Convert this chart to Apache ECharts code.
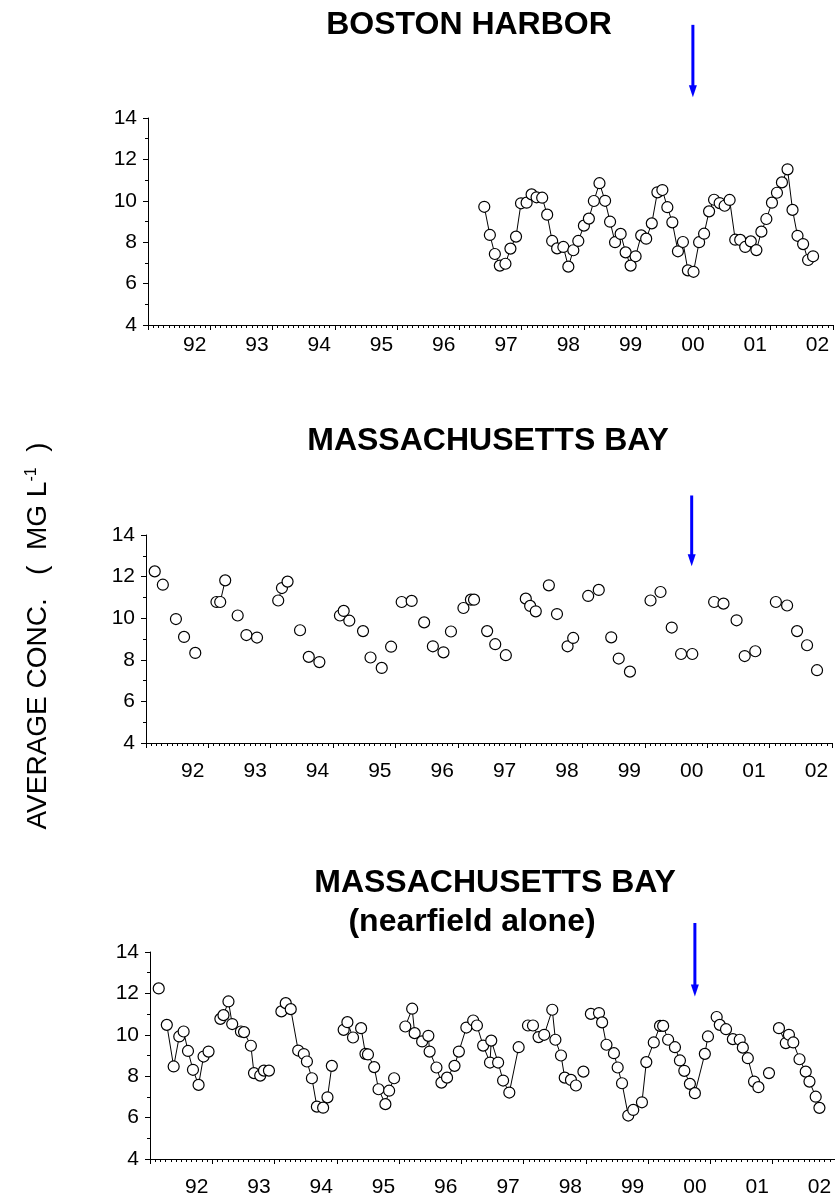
<!DOCTYPE html>
<html lang="en">
<head>
    <meta charset="UTF-8">
    <title>Average concentration - Boston Harbor / Massachusetts Bay</title>
    <script src="https://cdn.jsdelivr.net/npm/echarts@6/dist/echarts.min.js"></script>
    <style>
        html, body { margin: 0; padding: 0; background: #fff; }
        #chart { width: 835px; height: 1202px; }
    </style>
</head>
<body>
    <div id="chart"></div>

    <script>
        // x values are decimal years, the "92" label sits at 1992.0
        const yearLabels = [1992, 1993, 1994, 1995, 1996, 1997, 1998, 1999, 2000, 2001, 2002];
        const outfallYear = 2000.0;

        // Boston Harbor
        const bhYears = [1996.65, 1996.74, 1996.82, 1996.90, 1996.99, 1997.07, 1997.16, 1997.24, 1997.33, 1997.41,
            1997.49, 1997.58, 1997.66, 1997.74, 1997.82, 1997.92, 1998.00, 1998.08, 1998.16, 1998.25,
            1998.33, 1998.41, 1998.50, 1998.59, 1998.67, 1998.75, 1998.84, 1998.92, 1999.00, 1999.08,
            1999.17, 1999.25, 1999.34, 1999.43, 1999.51, 1999.59, 1999.67, 1999.76, 1999.84, 1999.92,
            2000.01, 2000.10, 2000.18, 2000.26, 2000.34, 2000.43, 2000.51, 2000.59, 2000.68, 2000.76,
            2000.84, 2000.93, 2001.02, 2001.10, 2001.18, 2001.27, 2001.35, 2001.43, 2001.52, 2001.60,
            2001.68, 2001.77, 2001.85, 2001.93];
        const bhValues = [9.71, 8.35, 7.43, 6.87, 6.96, 7.69, 8.27, 9.88, 9.91, 10.31,
            10.17, 10.15, 9.33, 8.06, 7.70, 7.77, 6.82, 7.61, 8.06, 8.80,
            9.14, 9.99, 10.85, 10.00, 8.99, 8.00, 8.40, 7.51, 6.87, 7.32,
            8.33, 8.17, 8.91, 10.41, 10.52, 9.69, 8.96, 7.56, 8.01, 6.64,
            6.57, 8.00, 8.41, 9.49, 10.05, 9.89, 9.76, 10.04, 8.12, 8.11,
            7.77, 8.04, 7.62, 8.51, 9.12, 9.91, 10.39, 10.89, 11.52, 9.56,
            8.31, 7.91, 7.14, 7.32];
        const bhBreaks = [];

        // Massachusetts Bay (all stations)
        const mbYears = [1991.39, 1991.52, 1991.73, 1991.86, 1992.04, 1992.38, 1992.44, 1992.52, 1992.72, 1992.86,
            1993.03, 1993.37, 1993.43, 1993.52, 1993.72, 1993.86, 1994.03, 1994.36, 1994.42, 1994.51,
            1994.73, 1994.85, 1995.03, 1995.18, 1995.35, 1995.51, 1995.71, 1995.85, 1996.02, 1996.14,
            1996.34, 1996.46, 1996.51, 1996.72, 1996.85, 1997.02, 1997.34, 1997.41, 1997.50, 1997.71,
            1997.84, 1998.01, 1998.10, 1998.34, 1998.51, 1998.71, 1998.83, 1999.01, 1999.34, 1999.50,
            1999.68, 1999.83, 2000.01, 2000.36, 2000.51, 2000.72, 2000.85, 2001.02, 2001.35, 2001.53,
            2001.69, 2001.85, 2002.01];
        const mbValues = [12.25, 11.61, 9.96, 9.10, 8.33, 10.78, 10.78, 11.82, 10.13, 9.19,
            9.07, 10.85, 11.45, 11.76, 9.42, 8.14, 7.89, 10.13, 10.35, 9.88,
            9.38, 8.11, 7.61, 8.63, 10.78, 10.83, 9.80, 8.65, 8.36, 9.36,
            10.49, 10.89, 10.89, 9.38, 8.75, 8.22, 10.94, 10.59, 10.33, 11.58,
            10.20, 8.65, 9.05, 11.07, 11.36, 9.08, 8.06, 7.43, 10.85, 11.26,
            9.55, 8.28, 8.28, 10.78, 10.70, 9.90, 8.18, 8.41, 10.78, 10.61,
            9.38, 8.70, 7.50];
        // only these points are joined to the previous one
        const mbJoined = [6, 7, 12, 13, 32, 37, 38, 42];

        // Massachusetts Bay, nearfield alone
        const nfYears = [1991.39, 1991.52, 1991.63, 1991.72, 1991.79, 1991.86, 1991.94, 1992.03, 1992.11, 1992.19,
            1992.38, 1992.43, 1992.51, 1992.57, 1992.71, 1992.76, 1992.87, 1992.92, 1993.02, 1993.08,
            1993.16, 1993.36, 1993.43, 1993.51, 1993.63, 1993.72, 1993.77, 1993.85, 1993.93, 1994.03,
            1994.10, 1994.17, 1994.36, 1994.42, 1994.51, 1994.64, 1994.71, 1994.75, 1994.85, 1994.92,
            1995.03, 1995.09, 1995.17, 1995.35, 1995.46, 1995.50, 1995.62, 1995.72, 1995.74, 1995.85,
            1995.93, 1996.02, 1996.14, 1996.21, 1996.33, 1996.44, 1996.50, 1996.60, 1996.71, 1996.73,
            1996.84, 1996.92, 1997.02, 1997.17, 1997.32, 1997.40, 1997.49, 1997.58, 1997.71, 1997.76,
            1997.85, 1997.91, 1998.01, 1998.09, 1998.21, 1998.33, 1998.46, 1998.51, 1998.58, 1998.70,
            1998.76, 1998.83, 1998.93, 1999.01, 1999.15, 1999.22, 1999.34, 1999.44, 1999.49, 1999.57,
            1999.68, 1999.76, 1999.83, 1999.92, 2000.00, 2000.16, 2000.21, 2000.35, 2000.40, 2000.50,
            2000.61, 2000.72, 2000.77, 2000.85, 2000.95, 2001.02, 2001.19, 2001.35, 2001.46, 2001.51,
            2001.58, 2001.68, 2001.78, 2001.84, 2001.94, 2002.00];
        const nfValues = [12.24, 10.48, 8.47, 9.92, 10.16, 9.22, 8.31, 7.58, 8.95, 9.19,
            10.77, 10.95, 11.61, 10.52, 10.16, 10.13, 9.47, 8.15, 8.03, 8.27,
            8.27, 11.13, 11.53, 11.24, 9.24, 9.07, 8.71, 7.90, 6.53, 6.48,
            6.98, 8.50, 10.24, 10.61, 9.87, 10.32, 9.08, 9.05, 8.44, 7.37,
            6.65, 7.30, 7.90, 10.40, 11.26, 10.08, 9.68, 9.95, 9.19, 8.42,
            7.69, 7.93, 8.50, 9.19, 10.35, 10.69, 10.45, 9.48, 8.66, 9.72,
            8.66, 7.79, 7.21, 9.40, 10.45, 10.45, 9.89, 10.00, 11.21, 9.76,
            9.00, 7.93, 7.82, 7.55, 8.22, 11.01, 11.05, 10.60, 9.52, 9.11,
            8.42, 7.66, 6.10, 6.37, 6.74, 8.68, 9.63, 10.43, 10.43, 9.76,
            9.40, 8.76, 8.26, 7.63, 7.18, 9.08, 9.92, 10.86, 10.48, 10.27,
            9.79, 9.76, 9.38, 8.87, 7.74, 7.47, 8.15, 10.32, 9.60, 10.00,
            9.63, 8.82, 8.22, 7.74, 7.01, 6.47];
        // a new line segment starts at these points
        const nfBreaks = [1, 10, 21, 32, 43, 64, 74, 75, 97, 106, 107];

        const FONT = 'Arial, "Liberation Sans", sans-serif';

        const panels = [
            { years: bhYears, values: bhValues, isBreak: i => bhBreaks.includes(i),
              grid: { left: 148, top: 118, width: 685, height: 207 }, labelMargin: 10,
              arrow: [18.5, 15.0],
              titles: [{ text: 'BOSTON HARBOR', x: 469, y: 25 }] },
            { years: mbYears, values: mbValues, isBreak: i => !mbJoined.includes(i),
              grid: { left: 146, top: 535, width: 686, height: 208 }, labelMargin: 18,
              arrow: [15.9, 12.5],
              titles: [{ text: 'MASSACHUSETTS BAY', x: 488, y: 441 }] },
            { years: nfYears, values: nfValues, isBreak: i => nfBreaks.includes(i),
              grid: { left: 150, top: 952, width: 685, height: 207 }, labelMargin: 18,
              arrow: [15.4, 11.85],
              titles: [{ text: 'MASSACHUSETTS BAY', x: 495, y: 883 },
                       { text: '(nearfield alone)', x: 472, y: 922 }] }
        ];

        function buildData(years, values, isBreak) {
            const out = [];
            years.forEach((x, i) => {
                if (i > 0 && isBreak(i)) out.push([(years[i - 1] + x) / 2, null]);
                out.push([x, values[i]]);
            });
            return out;
        }

        const chart = echarts.init(document.getElementById('chart'), null, { renderer: 'canvas' });

        const grids = [], xAxes = [], yAxes = [], series = [];
        panels.forEach((p, k) => {
            grids.push(Object.assign({ containLabel: false }, p.grid));
            // axis that only carries the year ticks (11 whole years)
            xAxes.push({
                type: 'value', gridIndex: k, position: 'bottom', min: 0, max: 11, interval: 1,
                axisLine: { show: true, onZero: false, lineStyle: { color: '#000', width: 1 } },
                axisTick: { show: true, length: 5, lineStyle: { color: '#000' } },
                minorTick: { show: true, splitNumber: 12, length: 3, lineStyle: { color: '#000' } },
                axisLabel: { show: false },
                splitLine: { show: false }
            });
            // data axis, carries the year labels
            xAxes.push({
                type: 'value', gridIndex: k, position: 'bottom', min: 1991.25, max: 2002.25,
                axisLine: { show: false },
                axisTick: { show: false },
                splitLine: { show: false },
                axisLabel: {
                    show: true, customValues: yearLabels, margin: p.labelMargin,
                    color: '#000', fontFamily: FONT, fontSize: 21,
                    formatter: v => String(Math.round(v)).slice(2)
                }
            });
            yAxes.push({
                type: 'value', gridIndex: k, min: 4, max: 14, interval: 2,
                axisLine: { show: true, onZero: false, lineStyle: { color: '#000', width: 1 } },
                axisTick: { show: true, length: 5, lineStyle: { color: '#000' } },
                minorTick: { show: true, splitNumber: 2, length: 3, lineStyle: { color: '#000' } },
                axisLabel: { color: '#000', fontFamily: FONT, fontSize: 21, margin: 11 },
                splitLine: { show: false }
            });
            series.push({
                type: 'line',
                xAxisIndex: 2 * k + 1,
                yAxisIndex: k,
                data: buildData(p.years, p.values, p.isBreak),
                connectNulls: false,
                symbol: 'circle',
                symbolSize: 11,
                showSymbol: true,
                showAllSymbol: true,
                itemStyle: { color: '#fff', borderColor: '#000', borderWidth: 1.2 },
                lineStyle: { color: '#000', width: 1 },
                emphasis: { disabled: true },
                silent: true
            });
        });

        chart.setOption({
            animation: false,
            backgroundColor: '#fff',
            grid: grids,
            xAxis: xAxes,
            yAxis: yAxes,
            series: series
        });

        const graphics = [];
        panels.forEach((p, k) => {
            p.titles.forEach(t => {
                graphics.push({
                    type: 'text', x: t.x, y: t.y,
                    style: { text: t.text, font: 'bold 32px ' + FONT, fill: '#000',
                             textAlign: 'center', textVerticalAlign: 'middle' }
                });
            });
            // blue arrow marking the outfall start
            const top = chart.convertToPixel({ seriesIndex: k }, [outfallYear, p.arrow[0]]);
            const tip = chart.convertToPixel({ seriesIndex: k }, [outfallYear, p.arrow[1]]);
            const head = 12;
            graphics.push({
                type: 'line',
                shape: { x1: top[0], y1: top[1], x2: tip[0], y2: tip[1] - head + 2 },
                style: { stroke: '#0000ff', lineWidth: 3 }
            });
            graphics.push({
                type: 'polygon',
                shape: { points: [[tip[0] - 4, tip[1] - head], [tip[0] + 4, tip[1] - head], [tip[0], tip[1]]] },
                style: { fill: '#0000ff' }
            });
        });

        graphics.push({
            type: 'text', x: 38, y: 636, rotation: Math.PI / 2,
            style: {
                text: '{a|AVERAGE CONC.   (  MG L}{s|-1}{a|  )}',
                textAlign: 'center', textVerticalAlign: 'middle', fill: '#000',
                rich: {
                    a: { fontFamily: FONT, fontSize: 28, fill: '#000' },
                    s: { fontFamily: FONT, fontSize: 16, fill: '#000', verticalAlign: 'top' }
                }
            }
        });

        chart.setOption({ graphic: graphics });
    </script>
</body>
</html>
